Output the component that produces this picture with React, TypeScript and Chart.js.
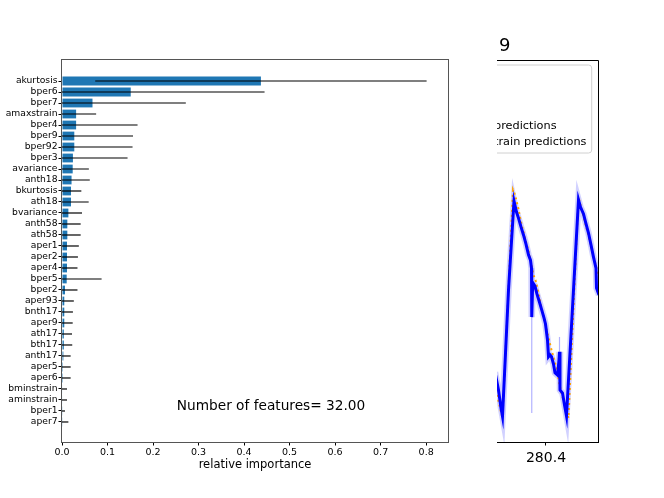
import { useEffect, useRef } from 'react';
import { Chart, registerables } from 'chart.js';

Chart.register(...registerables);

const FONT = "'DejaVu Sans', 'Liberation Sans', sans-serif";

// ---------- feature importance data ----------
const features = [
  'akurtosis', 'bper6', 'bper7', 'amaxstrain', 'bper4', 'bper9', 'bper92', 'bper3',
  'avariance', 'anth18', 'bkurtosis', 'ath18', 'bvariance', 'anth58', 'ath58', 'aper1',
  'aper2', 'aper4', 'bper5', 'bper2', 'aper93', 'bnth17', 'aper9', 'ath17',
  'bth17', 'anth17', 'aper5', 'aper6', 'bminstrain', 'aminstrain', 'bper1', 'aper7',
];
const importance = [
  0.437, 0.151, 0.067, 0.031, 0.031, 0.027, 0.027, 0.024,
  0.0235, 0.021, 0.0198, 0.0198, 0.014, 0.0117, 0.0117, 0.011,
  0.011, 0.011, 0.0103, 0.0066, 0.005, 0.005, 0.005, 0.004,
  0.004, 0.003, 0.002, 0.002, 0.001, 0.001, 0.0008, 0.0008,
];
const importanceStd = [
  0.364, 0.294, 0.205, 0.044, 0.135, 0.129, 0.128, 0.12,
  0.0355, 0.04, 0.0227, 0.0388, 0.03, 0.0293, 0.0293, 0.026,
  0.024, 0.023, 0.0767, 0.0274, 0.021, 0.019, 0.0185, 0.018,
  0.0185, 0.016, 0.017, 0.017, 0.01, 0.01, 0.0058, 0.0132,
];
const xTicks = [0, 0.1, 0.2, 0.3, 0.4, 0.5, 0.6, 0.7, 0.8];
const annotation = 'Number of features= 32.00';
const xTitle = 'relative importance';

// ---------- right (partially visible) time series ----------
const seriesTime = [
  280.298, 280.305, 280.31, 280.313, 280.325, 280.336, 280.341, 280.345, 280.35, 280.355,
  280.36, 280.365, 280.369, 280.371, 280.3715, 280.373, 280.375, 280.378, 280.382, 280.387,
  280.391, 280.396, 280.399, 280.403, 280.405, 280.408, 280.411, 280.415, 280.418, 280.423,
  280.426, 280.427, 280.428, 280.433, 280.437, 280.441, 280.465, 280.469, 280.475, 280.479,
  280.485, 280.49, 280.495, 280.5, 280.501, 280.506,
];
const seriesValue = [
  18.3, 13.6, 8.9, 6.7, 39.8, 63.1, 60.2, 58.6, 56.3, 54.2,
  51.8, 49.0, 47.6, 45.5, 32.7, 39.8, 41.4, 40.8, 38.7, 36.6,
  34.8, 32.5, 30.9, 26.7, 22.3, 22.8, 22.3, 20.4, 18.1, 17.5,
  21.5, 23.6, 13.6, 12.8, 9.7, 6.8, 63.4, 61.5, 59.7, 57.6,
  54.7, 51.6, 48.4, 45.5, 40.3, 38.5,
];
const trainTime = [
  280.298, 280.309, 280.313, 280.334, 280.338, 280.345, 280.349, 280.36, 280.366, 280.375,
  280.379, 280.385, 280.391, 280.4, 280.407, 280.411, 280.418, 280.423, 280.425, 280.432,
  280.445, 280.465, 280.488, 280.493, 280.506,
];
const trainValue = [
  14.9, 8.4, 6.3, 66.0, 64.7, 61.0, 58.1, 52.4, 49.5, 43.7,
  42.4, 39.0, 35.1, 30.1, 26.2, 24.1, 20.7, 18.8, 16.2, 12.3,
  6.3, 64.1, 52.4, 49.7, 42.9,
];
const spikeA = [{ x: 280.3715, y: 32.7 }, { x: 280.3715, y: 7.6 }];
const spikeB = [{ x: 280.427, y: 23.6 }, { x: 280.427, y: 27.5 }];
const rightTick = 280.4;
const rightTitle = '9';
const legendLabels = ['predictions', 'train predictions'];

export default function App() {
  const leftRef = useRef<HTMLCanvasElement | null>(null);
  const rightRef = useRef<HTMLCanvasElement | null>(null);

  useEffect(() => {
    const errorPlugin = {
      id: 'errorBars',
      afterDatasetsDraw(chart: any) {
        const { ctx, chartArea, scales } = chart;
        const xs = scales.x;
        const ys = scales.y;
        ctx.save();
        ctx.beginPath();
        ctx.rect(chartArea.left, chartArea.top, chartArea.right - chartArea.left, chartArea.bottom - chartArea.top);
        ctx.clip();
        ctx.strokeStyle = '#000';
        ctx.lineWidth = 1.2;
        importance.forEach((v, i) => {
          const yp = ys.getPixelForValue(i);
          ctx.beginPath();
          ctx.moveTo(xs.getPixelForValue(v - importanceStd[i]), yp);
          ctx.lineTo(xs.getPixelForValue(v + importanceStd[i]), yp);
          ctx.stroke();
        });
        ctx.restore();
        ctx.save();
        ctx.strokeStyle = '#555';
        ctx.lineWidth = 1;
        ctx.strokeRect(chartArea.left - 0.5, chartArea.top - 0.5, chartArea.right - chartArea.left + 1, chartArea.bottom - chartArea.top + 1);
        ctx.fillStyle = '#000';
        ctx.font = `13.7px ${FONT}`;
        ctx.textAlign = 'center';
        ctx.textBaseline = 'middle';
        ctx.fillText(annotation, 271, 406);
        ctx.restore();
      },
    };

    const left = new Chart(leftRef.current as HTMLCanvasElement, {
      type: 'bar',
      data: {
        datasets: [
          {
            data: features.map((_, i) => ({ x: importance[i], y: i })),
            backgroundColor: '#1f77b4',
            borderWidth: 0,
            barPercentage: 0.8,
            categoryPercentage: 1,
          } as any,
        ],
      },
      options: {
        indexAxis: 'y',
        responsive: false,
        animation: false,
        devicePixelRatio: 1,
        layout: { padding: { top: 60, right: 216, left: 0, bottom: 0 } },
        plugins: { legend: { display: false }, tooltip: { enabled: false } },
        scales: {
          x: {
            type: 'linear',
            min: 0,
            max: 0.848,
            offset: false,
            afterBuildTicks: (s: any) => {
              s.ticks = xTicks.map((v) => ({ value: v }));
            },
            afterFit: (s: any) => {
              s.height = 56;
            },
            ticks: {
              callback: (v: any) => Number(v).toFixed(1),
              font: { family: FONT, size: 9.5 },
              color: '#000',
              padding: 1,
              maxRotation: 0,
              autoSkip: false,
            },
            grid: { drawOnChartArea: false, drawTicks: true, tickLength: 3.5, color: '#000' },
            border: { display: false },
            title: {
              display: true,
              text: xTitle,
              color: '#000',
              font: { family: FONT, size: 11.5 },
              padding: { top: 0, bottom: 26.5 },
            },
          },
          y: {
            type: 'linear',
            reverse: true,
            offset: false,
            min: -1.91,
            max: 32.82,
            afterBuildTicks: (s: any) => {
              s.ticks = features.map((_, i) => ({ value: i }));
            },
            afterFit: (s: any) => {
              s.width = 62;
            },
            ticks: {
              callback: (v: any) => features[Number(v)] ?? '',
              font: { family: FONT, size: 9.2 },
              color: '#000',
              padding: 1,
              autoSkip: false,
            },
            grid: { drawOnChartArea: false, drawTicks: true, tickLength: 3.5, color: '#000', offset: false },
            border: { display: false },
          },
        },
      } as any,
      plugins: [errorPlugin],
    });

    const rightPlugin = {
      id: 'rightDecor',
      afterDatasetsDraw(chart: any) {
        const { ctx, chartArea } = chart;
        ctx.save();
        ctx.strokeStyle = '#000';
        ctx.lineWidth = 1;
        ctx.beginPath();
        ctx.moveTo(chartArea.left - 5, chartArea.top + 0.5);
        ctx.lineTo(chartArea.right + 0.5, chartArea.top + 0.5);
        ctx.lineTo(chartArea.right + 0.5, chartArea.bottom);
        ctx.stroke();
        // legend (only its right part is visible)
        const bx = -8;
        const by = 65;
        const bw = 94.7 - bx;
        const bh = 88;
        const r = 3;
        ctx.beginPath();
        ctx.moveTo(bx + r, by);
        ctx.lineTo(bx + bw - r, by);
        ctx.quadraticCurveTo(bx + bw, by, bx + bw, by + r);
        ctx.lineTo(bx + bw, by + bh - r);
        ctx.quadraticCurveTo(bx + bw, by + bh, bx + bw - r, by + bh);
        ctx.lineTo(bx + r, by + bh);
        ctx.quadraticCurveTo(bx, by + bh, bx, by + bh - r);
        ctx.lineTo(bx, by + r);
        ctx.quadraticCurveTo(bx, by, bx + r, by);
        ctx.fillStyle = 'rgba(255,255,255,0.8)';
        ctx.fill();
        ctx.strokeStyle = '#d0d0d0';
        ctx.stroke();
        ctx.fillStyle = '#000';
        ctx.font = `11.3px ${FONT}`;
        ctx.textAlign = 'left';
        ctx.textBaseline = 'middle';
        ctx.fillText(legendLabels[0], -3, 125.7);
        ctx.fillText(legendLabels[1], -3, 142.3);
        ctx.font = `18px ${FONT}`;
        ctx.textBaseline = 'alphabetic';
        ctx.fillText(rightTitle, 2, 50.7);
        ctx.restore();
      },
    };

    const blueData = seriesTime.map((t, i) => ({ x: t, y: seriesValue[i] }));
    const right = new Chart(rightRef.current as HTMLCanvasElement, {
      type: 'line',
      data: {
        datasets: [
          {
            data: trainTime.map((t, i) => ({ x: t, y: trainValue[i] })),
            borderColor: '#ffa500',
            borderWidth: 2,
            borderDash: [2, 3],
            pointRadius: 0,
            order: 2,
          },
          { data: blueData, borderColor: '#0000ff', borderWidth: 3, pointRadius: 0, order: 1 },
          { data: blueData, borderColor: 'rgba(0,0,255,0.18)', borderWidth: 6.5, pointRadius: 0, order: 4 },
          { data: spikeA, borderColor: 'rgba(0,0,255,0.3)', borderWidth: 1.2, pointRadius: 0, order: 3 },
          { data: spikeB, borderColor: 'rgba(0,0,255,0.3)', borderWidth: 1.2, pointRadius: 0, order: 3 },
        ] as any,
      },
      options: {
        responsive: false,
        animation: false,
        devicePixelRatio: 1,
        layout: { padding: { top: 60, right: 66, left: 0, bottom: 0 } },
        plugins: { legend: { display: false }, tooltip: { enabled: false } },
        elements: { line: { tension: 0 } },
        scales: {
          x: {
            type: 'linear',
            min: 280.302,
            max: 280.504,
            afterBuildTicks: (s: any) => {
              s.ticks = [{ value: rightTick }];
            },
            afterFit: (s: any) => {
              s.height = 56;
            },
            ticks: {
              callback: (v: any) => Number(v).toFixed(1),
              font: { family: FONT, size: 14 },
              color: '#000',
              padding: 4.5,
              maxRotation: 0,
              autoSkip: false,
            },
            grid: { drawOnChartArea: false, drawTicks: true, tickLength: 3.5, color: '#000' },
            border: { display: true, color: '#000', width: 1 },
          },
          y: { display: false, min: 0, max: 100 },
        },
      } as any,
      plugins: [rightPlugin],
    });

    return () => {
      left.destroy();
      right.destroy();
    };
  }, []);

  return (
    <div style={{ position: 'fixed', left: 0, top: 0, width: 664, height: 498, background: '#fff', overflow: 'hidden' }}>
      <canvas ref={leftRef} width={664} height={498} style={{ position: 'absolute', left: 0, top: 0, width: 664, height: 498 }} />
      <canvas ref={rightRef} width={167} height={498} style={{ position: 'absolute', left: 497, top: 0, width: 167, height: 498 }} />
    </div>
  );
}
